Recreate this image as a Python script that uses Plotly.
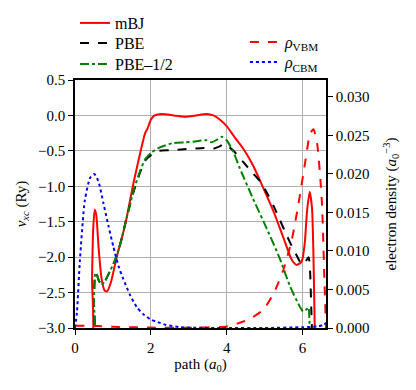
import plotly.graph_objects as go

# ---- data ----
mbj_x = [0, 0.43, 0.45, 0.48, 0.52, 0.56, 0.62, 0.70, 0.78, 0.85, 0.95, 1.1, 1.25, 1.36, 1.54, 1.72, 1.85,
         1.91, 2.0, 2.1, 2.3, 2.6, 2.9, 3.2, 3.47, 3.65, 3.8, 4.0, 4.2, 4.44, 4.7, 4.93, 5.24, 5.5, 5.72,
         5.85, 5.98, 6.06, 6.12, 6.19, 6.25, 6.29, 6.33]
mbj_y = [-3.2, -3.2, -2.3, -1.6, -1.33, -1.4, -1.85, -2.3, -2.47, -2.48, -2.35, -2.0, -1.7, -1.45, -0.96,
         -0.53, -0.25, -0.19, -0.06, 0.0, 0.02, 0.0, -0.02, 0.0, 0.02, 0.0, -0.05, -0.15, -0.3, -0.47,
         -0.71, -0.98, -1.36, -1.73, -2.04, -2.11, -2.06, -1.8, -1.35, -1.08, -1.3, -2.0, -3.2]

pbe_x = [0, 0.48, 0.50, 0.53, 0.56, 0.62, 0.70, 0.80, 0.92, 1.05, 1.2, 1.36, 1.55, 1.72, 1.85, 2.0, 2.2,
         2.5, 2.8, 3.1, 3.4, 3.65, 3.8, 3.92, 4.05, 4.2, 4.44, 4.7, 4.88, 5.05, 5.24, 5.4, 5.59, 5.75,
         5.85, 5.98, 6.06, 6.16, 6.2, 6.23, 6.26]
pbe_y = [-3.2, -3.2, -2.6, -2.25, -2.22, -2.32, -2.39, -2.33, -2.2, -2.05, -1.8, -1.45, -1.07, -0.8,
         -0.64, -0.56, -0.5, -0.49, -0.48, -0.47, -0.46, -0.47, -0.44, -0.41, -0.44, -0.51, -0.66, -0.82,
         -0.93, -1.08, -1.28, -1.47, -1.70, -1.88, -1.98, -2.1, -2.08, -2.0, -2.2, -2.7, -3.2]

pbe12_x = [0, 0.48, 0.50, 0.53, 0.56, 0.62, 0.70, 0.80, 0.92, 1.05, 1.2, 1.36, 1.55, 1.72, 1.85, 2.0,
           2.24, 2.59, 2.9, 3.12, 3.47, 3.60, 3.75, 3.87, 4.0, 4.18, 4.35, 4.7, 5.06, 5.41, 5.67, 5.94,
           6.02, 6.1, 6.16, 6.18, 6.2]
pbe12_y = [-3.2, -3.2, -2.6, -2.25, -2.22, -2.32, -2.39, -2.33, -2.2, -2.05, -1.8, -1.45, -1.05, -0.78,
           -0.62, -0.53, -0.45, -0.39, -0.38, -0.37, -0.35, -0.38, -0.34, -0.30, -0.35, -0.52, -0.75,
           -1.18, -1.6, -2.03, -2.41, -2.71, -2.77, -2.74, -2.71, -2.85, -3.2]

vbm_x = [0, 0.3, 0.6, 1.0, 1.5, 2.0, 3.0, 3.5, 4.0, 4.3, 4.62, 4.97, 5.24, 5.5, 5.72, 5.89, 6.07, 6.2,
         6.29, 6.39, 6.51, 6.58, 6.62]
vbm_y = [0.0003, 0.0003, 0.00025, 0.00015, 0.0001, 0.00005, 0.00002, 0.00008, 0.0002, 0.0006, 0.0012,
         0.0024, 0.0045, 0.0076, 0.0115, 0.0160, 0.0215, 0.0252, 0.0258, 0.0238, 0.0165, 0.006, 0.0]

cbm_x = [0, 0.05, 0.13, 0.26, 0.4, 0.51, 0.62, 0.75, 0.88, 1.01, 1.15, 1.27, 1.45, 1.63, 1.8, 2.0, 2.16,
         2.4, 2.77, 3.2, 4.0, 5.0, 6.0, 6.4, 6.55, 6.62]
cbm_y = [0, 0.002, 0.0088, 0.0166, 0.0195, 0.0200, 0.0190, 0.0162, 0.0133, 0.0106, 0.0080, 0.0064,
         0.0043, 0.0027, 0.0018, 0.0011, 0.0008, 0.0004, 0.0001, 0.00003, 0, 0, 0.0001, 0.0002, 0.0004,
         0.0006]

x_ticks = [0, 2, 4, 6]
y_ticks = [0.5, 0.0, -0.5, -1.0, -1.5, -2.0, -2.5, -3.0]
y2_ticks = [0.0, 0.005, 0.010, 0.015, 0.020, 0.025, 0.030]

FONT = "Liberation Serif"

fig = go.Figure()
sm = dict(shape="spline", smoothing=0.6)
fig.add_trace(go.Scatter(x=mbj_x, y=mbj_y, mode="lines", name="mBJ", showlegend=True,
                         line=dict(color="#ff0000", width=2, **sm), legend="legend"))
fig.add_trace(go.Scatter(x=pbe_x, y=pbe_y, mode="lines", name="PBE", showlegend=True,
                         line=dict(color="black", width=2, dash="dash", **sm), legend="legend2"))
fig.add_trace(go.Scatter(x=pbe12_x, y=pbe12_y, mode="lines", name="PBE–1/2", showlegend=True,
                         line=dict(color="#008000", width=2, dash="dashdot", **sm), legend="legend3"))
fig.add_trace(go.Scatter(x=vbm_x, y=vbm_y, mode="lines", name="<i>ρ</i><sub>VBM</sub>", yaxis="y2",
                         showlegend=True,
                         line=dict(color="#ff0000", width=2, dash="dash", **sm), legend="legend4"))
fig.add_trace(go.Scatter(x=cbm_x, y=cbm_y, mode="lines", name="<i>ρ</i><sub>CBM</sub>", yaxis="y2",
                         showlegend=True,
                         line=dict(color="#0000ff", width=2, dash="dot", **sm), legend="legend5"))

axis_common = dict(showline=True, linecolor="black", linewidth=1.5, ticks="outside", ticklen=5,
                   tickcolor="black", tickwidth=1.2, zeroline=False, automargin=False,
                   tickfont=dict(family=FONT, size=15, color="black"))


def leg(x, y):
    return dict(x=x, y=y, xanchor="left", yanchor="middle", bgcolor="rgba(0,0,0,0)",
                font=dict(family=FONT, size=16), itemwidth=30, visible=True)


# page body has an 8px margin: figure origin sits at (8, 8) in the window
fig.update_layout(
    width=416, height=390,
    margin=dict(l=67, r=98, t=72, b=70, autoexpand=False),
    showlegend=True,
    paper_bgcolor="white", plot_bgcolor="white",
    font=dict(family=FONT, size=15, color="black"),
    xaxis=dict(range=[0, 6.62], tickvals=x_ticks, showgrid=True, gridcolor="#b0b0b0", gridwidth=1,
               mirror=True, title=dict(text="path (<i>a</i><sub>0</sub>)", standoff=4,
                                        font=dict(family=FONT, size=15)), **axis_common),
    yaxis=dict(range=[-3.0, 0.5], tickvals=y_ticks, tickformat=".1f", showgrid=True,
               gridcolor="#b0b0b0", gridwidth=1,
               title=dict(text="<i>v</i><sub><i>xc</i></sub> (Ry)", standoff=8,
                          font=dict(family=FONT, size=15)), **axis_common),
    yaxis2=dict(range=[0, 0.0322], tickvals=y2_ticks, tickformat=".3f", overlaying="y", side="right",
                showgrid=False,
                title=dict(text="electron density (<i>a</i><sub>0</sub><sup>−3</sup>)", standoff=17,
                           font=dict(family=FONT, size=15)), **axis_common),
    legend=leg(0.0, 1.2298),
    legend2=leg(0.0, 1.1492),
    legend3=leg(0.0, 1.0645),
    legend4=leg(0.677, 1.1533),
    legend5=leg(0.677, 1.0726),
)

fig.write_html("out.html")
